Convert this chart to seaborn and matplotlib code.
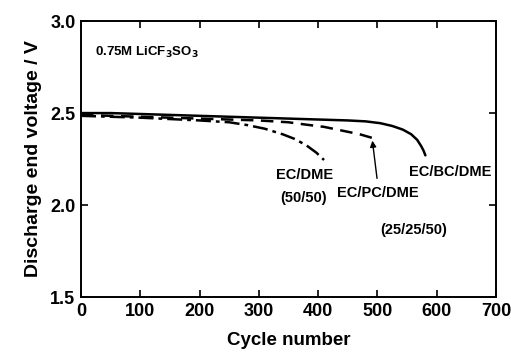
import matplotlib
matplotlib.use("Agg")
import matplotlib.pyplot as plt
import seaborn as sns
import pandas as pd

# Data
bc_cycles = [0, 50, 100, 150, 200, 250, 300, 350, 400, 450, 480, 505, 525, 543, 557, 567, 574, 578, 581]
bc_volts = [2.50, 2.50, 2.495, 2.49, 2.485, 2.48, 2.475, 2.47, 2.465, 2.46, 2.455, 2.445, 2.43, 2.41, 2.385, 2.355, 2.32, 2.295, 2.27]

pc_cycles = [0, 100, 200, 300, 350, 380, 410, 440, 470, 502]
pc_volts = [2.49, 2.48, 2.47, 2.46, 2.45, 2.437, 2.425, 2.405, 2.385, 2.355]

dme_cycles = [0, 100, 200, 250, 280, 310, 340, 360, 380, 397, 410]
dme_volts = [2.485, 2.475, 2.46, 2.45, 2.435, 2.415, 2.385, 2.36, 2.325, 2.285, 2.245]

x_ticks = [0, 100, 200, 300, 400, 500, 600, 700]
y_ticks = [1.5, 2.0, 2.5, 3.0]

sns.set_theme(style="ticks")
plt.rcParams['font.family'] = ['Liberation Sans', 'DejaVu Sans']
plt.rcParams['font.weight'] = 'bold'
plt.rcParams['text.color'] = 'black'
plt.rcParams['axes.labelcolor'] = 'black'
plt.rcParams['xtick.color'] = 'black'
plt.rcParams['ytick.color'] = 'black'

fig = plt.figure(figsize=(5.11, 3.56), dpi=100)
ax = fig.add_axes([0.1585, 0.1657, 0.812, 0.775])

df_bc = pd.DataFrame({"c": bc_cycles, "v": bc_volts})
df_pc = pd.DataFrame({"c": pc_cycles, "v": pc_volts})
df_dme = pd.DataFrame({"c": dme_cycles, "v": dme_volts})

sns.lineplot(data=df_bc, x="c", y="v", ax=ax, color="black", lw=1.8)
sns.lineplot(data=df_pc, x="c", y="v", ax=ax, color="black", lw=1.8,
             linestyle=(0, (5, 3)))
sns.lineplot(data=df_dme, x="c", y="v", ax=ax, color="black", lw=1.8,
             linestyle=(0, (6, 2, 1.5, 2)))

ax.set_xlim(0, 700)
ax.set_ylim(1.5, 3.0)
ax.set_xticks(x_ticks)
ax.set_yticks(y_ticks)
ax.set_yticklabels([f"{t:.1f}" for t in y_ticks])
ax.tick_params(direction="in", top=True, right=True, length=5, width=1.2,
               labelsize=13, pad=4, color="black")
for lab in ax.get_xticklabels() + ax.get_yticklabels():
    lab.set_fontweight("bold")
for s in ax.spines.values():
    s.set_linewidth(1.4)
    s.set_color("black")

ax.set_xlabel("Cycle number", fontsize=13.5, fontweight="bold", labelpad=9)
ax.set_ylabel("Discharge end voltage / V", fontsize=14, fontweight="bold", labelpad=6)

ax.text(24, 2.83, "0.75M LiCF$_3$SO$_3$", fontsize=9.5, va="center", ha="left")
ax.text(378, 2.163, "EC/DME", fontsize=10.5, fontweight="bold", ha="center", va="center")
ax.text(375, 2.038, "(50/50)", fontsize=10.5, fontweight="bold", ha="center", va="center")
ax.text(500, 2.065, "EC/PC/DME", fontsize=10.5, fontweight="bold", ha="center", va="center")
ax.text(623, 2.18, "EC/BC/DME", fontsize=10.5, fontweight="bold", ha="center", va="center")
ax.text(561, 1.864, "(25/25/50)", fontsize=10.5, fontweight="bold", ha="center", va="center")
ax.annotate("", xy=(491, 2.365), xytext=(500, 2.13),
            arrowprops=dict(arrowstyle="-|>", color="black", lw=1.0,
                            mutation_scale=9))

fig.savefig("out.png", dpi=100, facecolor="white")
